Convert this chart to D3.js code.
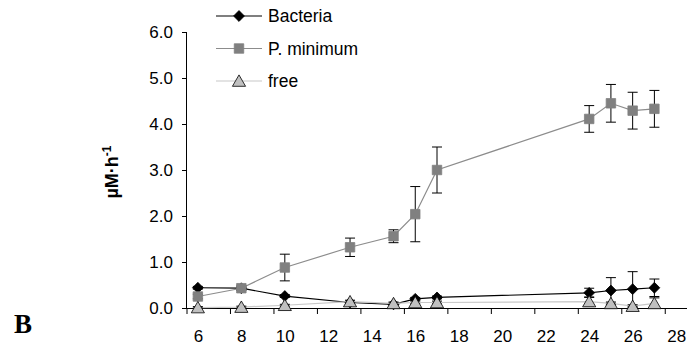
<!DOCTYPE html>
<html>
<head>
<meta charset="utf-8">
<script src="https://cdn.jsdelivr.net/npm/d3@7"></script>
<style>
  body { margin: 0; background: #fff; }
  svg { display: block; font-family: Arial, "Liberation Sans", sans-serif; }
</style>
</head>
<body>
<svg id="chart" width="690" height="350"></svg>
<script>
const days = [6, 8, 10, 13, 15, 16, 17, 24, 25, 26, 27]

const bacteria = [0.44, 0.43, 0.26, 0.12, 0.08, 0.2, 0.23, 0.33, 0.38, 0.41, 0.44]
const bacteriaErr = [0.03, 0.03, 0.03, 0.03, 0.03, 0.03, 0.03, 0.1, 0.28, 0.38, 0.19]

const pMinimum = [0.25, 0.43, 0.88, 1.32, 1.56, 2.04, 3.0, 4.11, 4.45, 4.29, 4.33]
const pMinimumErr = [0.05, 0.05, 0.29, 0.2, 0.14, 0.6, 0.5, 0.29, 0.41, 0.4, 0.4]

const free = [0.01, 0.02, 0.06, 0.14, 0.1, 0.12, 0.12, 0.14, 0.1, 0.04, 0.1]
const freeErr = [0.02, 0.02, 0.02, 0.03, 0.03, 0.03, 0.03, 0.1, 0.03, 0.03, 0.12]

const xTicks = [6, 8, 10, 12, 14, 16, 18, 20, 22, 24, 26, 28]
const yTicks = [0, 1, 2, 3, 4, 5, 6]

const series = [
  { name: 'Bacteria', values: bacteria, err: bacteriaErr, line: '#000', shape: 'diamond', fill: '#000', stroke: '#000' },
  { name: 'P. minimum', values: pMinimum, err: pMinimumErr, line: '#8c8c8c', shape: 'square', fill: '#808080', stroke: '#808080' },
  { name: 'free', values: free, err: freeErr, line: '#c8c8c8', shape: 'triangle', fill: '#c0c0c0', stroke: '#000' },
]

const svg = d3.select('#chart')

const x = d3.scaleLinear().domain([5.5, 28.5]).range([187, 687])
const y = d3.scaleLinear().domain([0, 6]).range([308, 32])

// axes
svg.append('g')
  .attr('transform', 'translate(187,0)')
  .call(d3.axisLeft(y).tickValues(yTicks).tickFormat(d3.format('.1f')).tickSize(5).tickPadding(9))
  .call(g => g.selectAll('text').attr('font-size', 17).attr('fill', '#000'))
  .call(g => g.select('.domain').attr('d', `M-0.5,${y(6)}V${y(0)}`))

const xAxis = svg.append('g')
  .attr('transform', `translate(0,${y(0)})`)
  .call(d3.axisBottom(x).tickValues(xTicks).tickSize(0).tickPadding(22))
  .call(g => g.selectAll('text').attr('font-size', 17).attr('fill', '#000'))
  .call(g => g.select('.domain').attr('d', `M${x(5.5)},0.5H${x(28.5)}`))

// tick marks sit between labels
xAxis.selectAll('line.mark')
  .data(xTicks)
  .enter()
  .append('line')
  .attr('class', 'mark')
  .attr('x1', d => x(d - 0.5))
  .attr('x2', d => x(d - 0.5))
  .attr('y1', 0)
  .attr('y2', 6)
  .attr('stroke', '#000')

const symbolFor = {
  diamond: d3.symbol().type(d3.symbolDiamond2 || d3.symbolDiamond).size(75),
  square: d3.symbol().type(d3.symbolSquare).size(90),
  triangle: d3.symbol().type(d3.symbolTriangle).size(75),
}

const line = d3.line().x(d => x(d[0])).y(d => y(d[1]))

series.forEach(s => {
  const pts = days.map((d, i) => [d, s.values[i], s.err[i]])
  const g = svg.append('g').attr('class', 'series')

  g.append('path')
    .attr('d', line(pts))
    .attr('fill', 'none')
    .attr('stroke', s.line)
    .attr('stroke-width', 1.2)

  const eb = g.selectAll('g.err').data(pts).enter().append('g').attr('class', 'err')
  eb.append('line')
    .attr('x1', d => x(d[0])).attr('x2', d => x(d[0]))
    .attr('y1', d => y(d[1] + d[2])).attr('y2', d => y(Math.max(0, d[1] - d[2])))
    .attr('stroke', '#000')
  eb.append('line')
    .attr('x1', d => x(d[0]) - 5).attr('x2', d => x(d[0]) + 5)
    .attr('y1', d => y(d[1] + d[2])).attr('y2', d => y(d[1] + d[2]))
    .attr('stroke', '#000')
  eb.append('line')
    .attr('x1', d => x(d[0]) - 5).attr('x2', d => x(d[0]) + 5)
    .attr('y1', d => y(Math.max(0, d[1] - d[2]))).attr('y2', d => y(Math.max(0, d[1] - d[2])))
    .attr('stroke', '#000')

  g.selectAll('path.pt')
    .data(pts)
    .enter()
    .append('path')
    .attr('class', 'pt')
    .attr('d', symbolFor[s.shape])
    .attr('transform', d => `translate(${x(d[0])},${y(d[1]) + (s.shape === 'triangle' ? 1.5 : 0)})`)
    .attr('fill', s.fill)
    .attr('stroke', s.stroke)
    .attr('stroke-width', 0.8)
})

// legend
const legend = svg.append('g').selectAll('g').data(series).enter().append('g')
  .attr('transform', (d, i) => `translate(216,${16 + i * 32.5})`)
legend.append('line')
  .attr('x1', 0).attr('x2', 46)
  .attr('stroke', d => d.line).attr('stroke-width', 1.2)
legend.append('path')
  .attr('d', d => symbolFor[d.shape]())
  .attr('transform', d => `translate(23,${d.shape === 'triangle' ? 1.5 : 0})`)
  .attr('fill', d => d.fill).attr('stroke', d => d.stroke).attr('stroke-width', 0.8)
legend.append('text')
  .attr('x', 52).attr('dy', '0.35em')
  .attr('font-size', 17.5)
  .text(d => d.name)

// y label
const yl = svg.append('text')
  .attr('transform', 'translate(118,172) rotate(-90)')
  .attr('text-anchor', 'middle')
  .attr('font-size', 18)
  .attr('font-weight', 'bold')
yl.append('tspan').text('µM·h')
yl.append('tspan').attr('dy', -7).attr('font-size', 12).text('-1')

// panel letter
svg.append('text')
  .attr('x', 14).attr('y', 333)
  .attr('font-family', '"Liberation Serif", "Times New Roman", serif')
  .attr('font-size', 27)
  .attr('font-weight', 'bold')
  .text('B')
</script>
</body>
</html>
